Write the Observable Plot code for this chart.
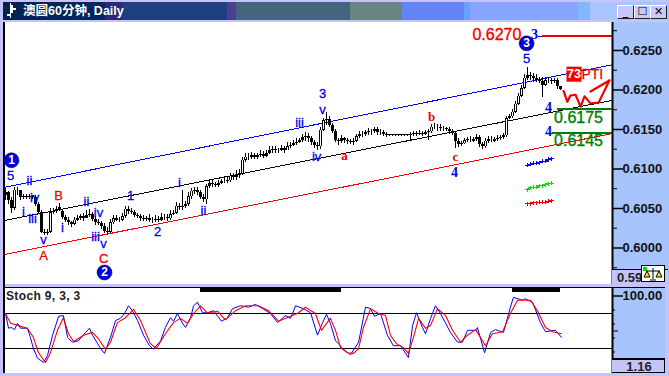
<!DOCTYPE html>
<html>
<head>
<meta charset="utf-8">
<script src="https://cdn.jsdelivr.net/npm/d3@7"></script>
<script src="https://cdn.jsdelivr.net/npm/@observablehq/plot@0.6"></script>
<style>
html,body{margin:0;padding:0;background:#c4c4fb}
#win{position:relative;width:669px;height:376px;overflow:hidden;background:#c4c4fb;font-family:"Liberation Sans",Arial,sans-serif}
#win>div,#win>svg{position:absolute}
#title{left:3px;top:2px;width:666px;height:18px;background:linear-gradient(90deg,#04224e 0,#06285a 102px,#2a2a70 102px,#2a2a70 119px,#1f4080 119px,#1f4080 224px,#4a3f8a 224px,#4a3f8a 233px,#45657f 233px,#45657f 347px,#66867f 347px,#66867f 399px,#6384f5 399px,#6384f5 461px,#6aa0ff 461px,#6aa0ff 467px,#85a5ff 467px,#85a5ff 575px,#7fb8ff 575px,#7fb8ff 587px,#a9c4ff 587px)}
#ttext{left:23px;top:3px;color:#fff;font:bold 12.5px "Liberation Sans","Noto Sans CJK SC",sans-serif;white-space:nowrap;line-height:16px}
#ticon{left:10px;top:5px;width:3px;height:8px;background:#fff}
#ticon2{left:7px;top:14px;width:3px;height:2px;background:#fff}
#ticon3{left:10px;top:3px;width:1px;height:15px;background:#fff}
#ticon4{left:13px;top:8px;width:3px;height:2px;background:#fff}
.btn{top:5px;width:15px;height:12px;background:#c8c8f8;border-top:1px solid #fff;border-left:1px solid #fff;border-right:1px solid #222;border-bottom:1px solid #222;text-align:center;font:bold 11px/12px "DejaVu Sans",sans-serif;color:#000}
#main{left:4px;top:22px;width:608px;height:262px;background:#fff}
#mgut{left:612px;top:22px;width:57px;height:262px;background:#a6c4fb}
#lower{left:4px;top:288px;width:608px;height:85px;background:#fff}
#lgut{left:612px;top:288px;width:53px;height:85px;background:#a6c4fb}
#lv{left:3px;top:22px;width:2px;height:351px;background:#000}
#ltop{left:3px;top:287px;width:662px;height:1px;background:#000}
#cell1{left:612px;top:269px;width:56px;height:15px;background:#c4c4fb;border-top:1px solid #000;font:bold 13px/16px "Liberation Sans",sans-serif;color:#222;padding-left:5px;box-sizing:border-box}
#cell2{left:612px;top:358px;width:53px;height:15px;background:#c4c4fb;border-top:2px solid #000;border-bottom:1px solid #000;border-right:1px solid #000;box-sizing:border-box;font:bold 13px/13px "Liberation Sans",sans-serif;text-align:center;color:#222;padding-left:2px}
#scale{left:641px;top:265px;width:24px;height:17px;background:#fff;border:1px solid #000;box-sizing:border-box}
#stoch{left:6px;top:289px;font:bold 12px/14px "Liberation Sans",sans-serif;color:#222;letter-spacing:.35px;z-index:3}
</style>
</head>
<body>
<div id="win">
<div id="title"></div>
<div id="ticon"></div><div id="ticon2"></div><div id="ticon3"></div><div id="ticon4"></div>
<div id="ttext">澳圆60分钟, Daily</div>
<div class="btn" style="left:617px">_</div>
<div class="btn" style="left:634px">☐</div>
<div class="btn" style="left:650px">✕</div>
<div id="main"></div><div id="mgut"></div><div id="lower"></div><div id="lgut"></div>
<div id="lv"></div><div id="ltop"></div>
<div id="chart" style="left:0;top:22px"></div>
<div id="osc" style="left:0;top:288px"></div>
<div id="cell1">0.59</div>
<div id="scale">
<svg width="22" height="15" style="display:block"><rect x="1" y="1" width="4" height="4" fill="#00e000"/><path d="M11 2v11M4 5h14M2 11l3-6 3 6zM14 11l3-6 3 6zM8 14h6" stroke="#000" fill="#ffe000" stroke-width="1"/></svg>
</div>
<div id="cell2">1.16</div>
<div id="stoch">Stoch 9, 3, 3</div>
</div>
<script>
// candlesticks, price in points (0.0001)
const opens = [
6066,6070,6060,6050,6073,6073,6064,6065,6064,6065,
6064,6055,6045,6020,6018,6020,6045,6046,6049,6046,
6039,6035,6032,6030,6035,6037,6040,6037,6041,6042,
6036,6032,6031,6027,6021,6020,6032,6037,6035,6035,
6040,6049,6046,6045,6041,6040,6037,6036,6037,6035,
6035,6036,6035,6039,6039,6037,6042,6044,6053,6051,
6053,6055,6065,6072,6073,6070,6064,6061,6078,6082,
6080,6079,6082,6084,6084,6085,6091,6089,6092,6094,
6111,6115,6115,6117,6115,6117,6118,6116,6120,6123,
6125,6123,6123,6126,6123,6128,6130,6132,6134,6136,
6140,6141,6139,6134,6130,6128,6149,6161,6163,6155,
6147,6136,6135,6139,6136,6135,6134,6135,6141,6144,
6144,6146,6147,6147,6150,6146,6146,6144,6144,6144,
6144,6144,6144,6144,6144,6142,6144,6145,6144,6145,
6144,6146,6147,6153,6153,6153,6151,6151,6150,6147,
6145,6135,6131,6132,6136,6137,6135,6137,6140,6131,
6128,6135,6137,6135,6137,6139,6140,6142,6164,6166,
6172,6182,6192,6202,6215,6218,6217,6215,6212,6211,
6206,6212,6212,6211,6212,6204];
const closes = [
6070,6060,6050,6073,6073,6064,6065,6064,6065,6064,
6055,6045,6020,6018,6020,6045,6046,6049,6051,6039,
6035,6032,6030,6035,6037,6040,6037,6041,6042,6036,
6032,6031,6027,6021,6020,6032,6037,6035,6035,6040,
6049,6046,6045,6041,6040,6037,6036,6037,6035,6035,
6036,6035,6039,6039,6037,6042,6044,6053,6051,6053,
6055,6065,6072,6073,6070,6064,6061,6078,6082,6080,
6079,6082,6084,6084,6085,6091,6089,6092,6094,6111,
6115,6115,6117,6115,6117,6118,6116,6120,6123,6125,
6123,6123,6126,6123,6128,6130,6132,6134,6136,6140,
6141,6139,6134,6130,6128,6149,6161,6163,6155,6147,
6136,6135,6139,6136,6135,6134,6135,6141,6144,6144,
6146,6147,6147,6150,6146,6146,6144,6142,6142,6142,
6142,6142,6142,6142,6142,6144,6145,6144,6145,6144,
6146,6147,6153,6153,6153,6151,6151,6150,6147,6145,
6135,6131,6132,6136,6137,6137,6137,6140,6131,6128,
6135,6137,6137,6137,6139,6140,6142,6164,6166,6172,
6182,6192,6202,6215,6218,6217,6215,6212,6211,6206,
6212,6212,6211,6212,6204,6201];
const highs = [
6075,6072,6064,6077,6077,6068,6068,6068,6068,6067,
6066,6057,6048,6024,6024,6050,6050,6053,6056,6048,
6041,6038,6034,6038,6041,6043,6044,6047,6049,6045,
6040,6036,6034,6031,6026,6036,6041,6041,6039,6044,
6053,6053,6050,6048,6044,6042,6041,6040,6042,6039,
6041,6040,6044,6043,6042,6047,6048,6057,6056,6073,
6059,6070,6075,6076,6076,6073,6068,6080,6085,6086,
6083,6086,6087,6089,6090,6094,6094,6098,6099,6114,
6119,6120,6121,6119,6120,6123,6122,6124,6128,6129,
6128,6126,6130,6128,6134,6134,6136,6138,6139,6144,
6146,6145,6141,6136,6133,6152,6164,6171,6167,6158,
6150,6139,6142,6140,6138,6137,6138,6144,6147,6148,
6149,6151,6150,6153,6152,6150,6149,6146,6144,6144,
6144,6144,6144,6144,6144,6146,6148,6148,6149,6147,
6149,6150,6156,6157,6156,6156,6154,6153,6153,6150,
6148,6139,6135,6138,6140,6141,6140,6144,6143,6134,
6138,6141,6141,6140,6142,6143,6145,6167,6169,6175,
6186,6196,6206,6219,6229,6222,6221,6219,6216,6216,
6216,6215,6215,6215,6215,6205];
const lows = [
6060,6055,6044,6048,6066,6060,6061,6061,6061,6061,
6052,6042,6018,6016,6016,6018,6042,6044,6046,6036,
6032,6029,6026,6028,6033,6035,6034,6037,6038,6033,
6029,6028,6024,6018,6016,6018,6030,6033,6032,6033,
6037,6043,6042,6039,6037,6034,6033,6033,6032,6031,
6032,6032,6033,6035,6034,6035,6041,6042,6048,6048,
6050,6053,6062,6068,6067,6062,6058,6055,6075,6077,
6076,6077,6080,6082,6081,6083,6085,6086,6088,6092,
6108,6111,6112,6112,6112,6114,6113,6114,6118,6120,
6119,6120,6122,6119,6123,6126,6128,6130,6132,6133,
6135,6133,6130,6126,6123,6125,6147,6155,6152,6145,
6133,6130,6132,6132,6131,6131,6130,6133,6139,6140,
6141,6143,6143,6145,6143,6142,6141,6140,6141,6141,
6141,6141,6141,6141,6141,6136,6141,6141,6142,6141,
6142,6136,6145,6150,6148,6148,6148,6147,6144,6142,
6126,6127,6128,6131,6134,6134,6134,6135,6127,6125,
6126,6132,6134,6134,6135,6136,6137,6140,6162,6164,
6170,6180,6190,6200,6212,6212,6210,6209,6208,6190,
6204,6208,6207,6208,6200,6199];

// channel lines: [bar, points]
const blueChannel = [[0,6077],[202.33,6232]];
const blackChannel = [[0,6035],[202.33,6187]];
const redChannel = [[0,5992],[202.33,6145]];

// target levels
const levelBars = {red:[179,202.33], dash:[177.7,179], upper:[184,202.33], lower:[182.3,202.33]};
const targetRed = 6268, target6175 = 6176, target6145 = 6145;

// forecast path
const pathBars = [186,187.3,188.3,190,191.7,193,195,197.7,201.3];
const pathPts = [6199,6185,6193,6194,6179,6192,6183,6184,6212];
const arrowBars = [195,201.3];
const arrowPts = [6198,6212];

// small marker series
const miniBars = [174,175,176,177,178,179,180,181,182];
const miniBlue = [6105,6106,6107,6107,6108,6110,6110,6112,6113];
const miniGreen = [6074,6076,6077,6077,6079,6079,6080,6081,6082];
const miniRed = [6056,6056,6057,6057,6058,6058,6058,6059,6060];

// wave labels
const waveText = ["5","ii","iv","i","iii","v","i","ii","iv","iii","v","1","i","2","ii","3","v","iii","iv","5"];
const waveBars = [1.7,8,9.7,6,9,12.7,19,27,31,30,32.7,41.7,58,50.7,66,105.7,105.7,98,103.7,173.7];
const wavePts = [6091,6085,6064,6046,6037,6010,6025,6059,6045,6014,6005,6066,6082,6020,6047,6195,6175,6158,6115,6239];
const redText = ["B","A","C"];
const redBars = [17.7,12.7,32.7];
const redPts = [6066,5990,5986];
const smallRedText = ["a","b","c"];
const smallRedBars = [113,142,150];
const smallRedPts = [6117,6166,6115];
const serifText = ["4","3","4","4"];
const serifBars = [149.7,176.3,181,181];
const serifPts = [6096,6270,6178,6147];
const circleText = ["1","2","3"];
const circleBars = [2,33,173.7];
const circlePts = [6111,5969,6259];

const axisTicks = [0.6,0.605,0.61,0.615,0.62,0.625];
const midTicks = [0.5975,0.6025,0.6075,0.6125,0.6175,0.6225,0.6275];

// stochastic
const kBars = [0,1,2,3,4,5,7.3,8.3,9.3,10.7,12.7,14,15.7,17.7,19.3,20.7,22.3,24.3,26.7,28,29,30.7,31.7,33,35,36.7,38.3,39.7,41,42.3,44,46,48,49.3,51.7,53.3,55,56,57.3,59,60,61.7,62.7,64,65.7,67.3,69.3,72,74,75.7,78.3,81,83.3,85.7,88.3,90.7,93.3,95,96.7,99.3,101.7,104,105.7,107,108.3,110,111,112.3,115,117.7,120,121.7,123,125,127.3,129.3,131.7,134.3,135.7,137,139,140,141.7,143.3,145,148.3,150.7,152.3,154,156.7,157.3,159.7,161.7,163.3,166,168.3,169.3,172.3,173.3,175.7,178.3,180,183.3,185.3];
const kVals = [75,54,55,52,61,54,54,41,25,11,5,15,44,71,72,41,34,36,48,54,44,32,25,18,41,65,68,75,86,79,65,44,29,24,36,55,69,64,75,61,55,69,86,91,76,76,79,64,69,82,86,84,88,82,75,62,72,68,86,82,76,44,62,74,61,36,32,25,16,34,84,82,71,75,44,29,29,12,58,76,55,46,68,86,75,48,34,34,51,51,55,19,48,52,48,84,98,94,96,91,62,49,51,41];
const dBars = [0,1.7,4,7.3,9.3,11,13.3,15,17.3,19.3,21,22.7,26,29,31,33.3,35,37.3,40,42.7,45,48.3,50.3,53.3,56,58.3,60.7,62.7,65,67.3,70.7,73.3,76.7,80,84.3,87.7,91,95,97.3,100,103.3,105.3,108.3,110,111.7,114,116,117.7,119.3,121.7,124.3,126.7,128.3,130.3,132.7,134.3,136,137.7,140,141.7,144,146.7,149,151.7,154,156.7,160,162.3,165.7,168.3,170.7,175,177.3,180,182.3,185.3];
const dVals = [75,61,58,54,41,19,5,19,51,69,46,35,44,48,39,24,34,62,69,81,65,32,25,46,62,68,61,75,86,76,78,66,79,86,86,79,64,71,75,84,75,51,68,51,26,19,18,25,55,82,75,72,44,32,26,18,41,68,54,58,82,72,51,34,44,52,29,46,49,75,94,94,79,55,49,46];
const stochLevels = [25,75];
const heavyBars = [[65,112],[169,185]];
const heavyLevel = 108;

const P = v => v/10000;
const bars = closes.map((c,i)=>({i,o:P(opens[i]),c:P(c),h:P(highs[i]),l:P(lows[i])}));
const pairs = (xs,ys)=>xs.map((x,i)=>({x,y:P(ys[i])}));
const chPairs = a => a.map(([x,y])=>({x,y:P(y)}));
const crisp = {shapeRendering:"crispEdges"};
const serif = "'Liberation Serif',serif";
const sans = "'Liberation Sans',sans-serif";
const lab = (t,xs,ys,o)=>Plot.text(t.map((s,i)=>({s,x:xs[i],y:P(ys[i])})),{x:"x",y:"y",text:"s",...o});

const xDomain = [-1/3,202.33];
const main = Plot.plot({
  width:669,height:262,marginLeft:4,marginRight:57,marginTop:0,marginBottom:0,
  style:{background:"transparent",overflow:"visible",fontFamily:sans},
  x:{domain:xDomain,axis:null},
  y:{domain:[0.59538,0.62854]},
  marks:[
    Plot.line(chPairs(blueChannel),{x:"x",y:"y",stroke:"#0000ff",strokeWidth:1,...crisp}),
    Plot.line(chPairs(blackChannel),{x:"x",y:"y",stroke:"#000",strokeWidth:1,...crisp}),
    Plot.line(chPairs(redChannel),{x:"x",y:"y",stroke:"#ff0000",strokeWidth:1,...crisp}),
    Plot.ruleX(bars,{x:"i",y1:"l",y2:"h",stroke:"#000",strokeWidth:1,...crisp}),
    Plot.ruleX(bars,{x:"i",y1:"o",y2:"c",stroke:"#000",strokeWidth:3,...crisp}),
    Plot.ruleX(bars.filter(d=>d.c-d.o>=0.0004),{x:"i",y1:d=>d.o+0.00008,y2:d=>d.c-0.00008,stroke:"#fff",strokeWidth:1,...crisp}),
    Plot.ruleY([P(targetRed)],{x1:levelBars.red[0],x2:levelBars.red[1],stroke:"#ee0000",strokeWidth:2,...crisp}),
    Plot.ruleY([P(targetRed)],{x1:levelBars.dash[0],x2:levelBars.dash[1],stroke:"#0000ff",strokeWidth:1,...crisp}),
    Plot.ruleY([P(target6175)],{x1:levelBars.upper[0],x2:levelBars.upper[1],stroke:"#008000",strokeWidth:2,...crisp}),
    Plot.ruleY([P(target6145)],{x1:levelBars.lower[0],x2:levelBars.lower[1],stroke:"#008000",strokeWidth:2,...crisp}),
    Plot.line(pairs(pathBars,pathPts),{x:"x",y:"y",stroke:"#f00000",strokeWidth:2.2}),
    Plot.line(pairs(arrowBars,arrowPts),{x:"x",y:"y",stroke:"#f00000",strokeWidth:2.2}),
    Plot.line(pairs(miniBars,miniBlue),{x:"x",y:"y",stroke:"#0000ff",strokeWidth:1,...crisp}),
    Plot.dot(pairs(miniBars,miniBlue),{x:"x",y:"y",symbol:"plus",r:1.4,stroke:"#0000ff",strokeWidth:1,...crisp}),
    Plot.line(pairs(miniBars,miniGreen),{x:"x",y:"y",stroke:"#00e000",strokeWidth:1,...crisp}),
    Plot.dot(pairs(miniBars,miniGreen),{x:"x",y:"y",symbol:"plus",r:1.4,stroke:"#00e000",strokeWidth:1,...crisp}),
    Plot.line(pairs(miniBars,miniRed),{x:"x",y:"y",stroke:"#ee0000",strokeWidth:1,...crisp}),
    Plot.dot(pairs(miniBars,miniRed),{x:"x",y:"y",symbol:"plus",r:1.4,stroke:"#ee0000",strokeWidth:1,...crisp}),
    lab(waveText,waveBars,wavePts,{fill:"#0000f0",stroke:"#0000f0",strokeWidth:.3,fontSize:13,fontFamily:sans}),
    lab(redText,redBars,redPts,{fill:"#f00000",stroke:"#f00000",strokeWidth:.3,fontSize:13,fontFamily:sans}),
    lab(smallRedText,smallRedBars,smallRedPts,{fill:"#f00000",fontSize:13,fontWeight:"bold",fontFamily:serif}),
    lab(serifText,serifBars,serifPts,{fill:"#0000f0",fontSize:14,fontWeight:"bold",fontFamily:serif}),
    Plot.dot(circleBars.map((x,i)=>({x,y:P(circlePts[i])})),{x:"x",y:"y",r:7.5,fill:"#0000e0",stroke:"#000",strokeWidth:.5}),
    lab(circleText,circleBars,circlePts,{fill:"#fff",fontSize:12,fontWeight:"bold",fontFamily:sans}),
    lab(["0.6270"],[163.8],[6270],{fill:"#f00000",stroke:"#f00000",strokeWidth:.35,fontSize:16,fontFamily:sans}),
    lab(["0.6175"],[191],[6165],{fill:"#008000",stroke:"#008000",strokeWidth:.35,fontSize:16,fontFamily:sans}),
    lab(["0.6145"],[191],[6135],{fill:"#008000",stroke:"#008000",strokeWidth:.35,fontSize:16,fontFamily:sans}),
    Plot.dot([{x:189.5,y:P(6220)}],{x:"x",y:"y",symbol:"square",r:8.5,fill:"#f00000"}),
    lab(["73"],[189.5],[6220],{fill:"#fff",fontSize:12.5,fontWeight:"bold",fontFamily:sans}),
    lab(["PTI"],[195.6],[6220],{fill:"#f00000",stroke:"#f00000",strokeWidth:.3,fontSize:14,fontFamily:sans}),
    Plot.axisY({anchor:"right",ticks:midTicks,tickSize:4,fill:"none",label:null,stroke:"#000",strokeWidth:1}),
    Plot.axisY({anchor:"right",ticks:axisTicks,tickSize:10,tickPadding:0,tickFormat:d3.format(".4f"),label:null,fontSize:13,fontWeight:"bold",fill:"#111",strokeWidth:1.5}),
    Plot.ruleX([202.33],{stroke:"#000",strokeWidth:2})
  ]
});
document.getElementById("chart").appendChild(main);

const kLine = kBars.map((x,i)=>({x,y:kVals[i]}));
const dLine = dBars.map((x,i)=>({x,y:dVals[i]}));
const osc = Plot.plot({
  width:669,height:85,marginLeft:4,marginRight:57,marginTop:0,marginBottom:0,
  style:{background:"transparent",overflow:"visible",fontFamily:sans},
  x:{domain:xDomain,axis:null},
  y:{domain:[-10.7,110.7]},
  marks:[
    Plot.ruleY(stochLevels,{stroke:"#000",strokeWidth:1.5,...crisp}),
    Plot.ruleY([heavyLevel],{x1:heavyBars[0][0],x2:heavyBars[0][1],stroke:"#000",strokeWidth:4,...crisp}),
    Plot.ruleY([heavyLevel],{x1:heavyBars[1][0],x2:heavyBars[1][1],stroke:"#000",strokeWidth:4,...crisp}),
    Plot.line(kLine,{x:"x",y:"y",stroke:"#0000ff",strokeWidth:1}),
    Plot.line(dLine,{x:"x",y:"y",stroke:"#ff0000",strokeWidth:1.1}),
    Plot.axisY({anchor:"right",ticks:[20,40,60,80],tickSize:2,fill:"none",label:null,stroke:"#000"}),
    Plot.axisY({anchor:"right",ticks:[50],tickSize:5,fill:"none",label:null,stroke:"#000"}),
    Plot.axisY({anchor:"right",ticks:[100],tickSize:10,tickPadding:0,tickFormat:d3.format(".2f"),label:null,fontSize:13,fontWeight:"bold",fill:"#111",strokeWidth:1.5}),
    Plot.ruleX([202.33],{stroke:"#000",strokeWidth:2})
  ]
});
document.getElementById("osc").appendChild(osc);
</script>
</body>
</html>
